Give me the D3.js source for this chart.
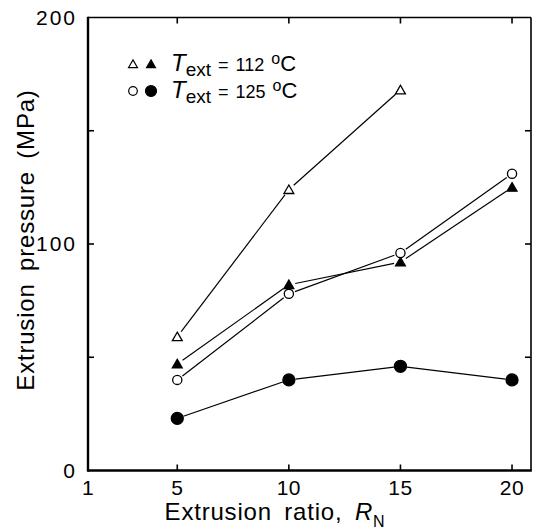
<!DOCTYPE html>
<html>
<head>
<meta charset="utf-8">
<script src="https://cdn.jsdelivr.net/npm/d3@7"></script>
<style>
  body { margin: 0; background: #fff; }
  text { font-family: "Liberation Sans", Arial, Helvetica, sans-serif; fill: #000; }
</style>
</head>
<body>
<svg id="chart" width="534" height="531"></svg>
<script>
// extrusion ratio R_N
const ratios = [5, 10, 15, 20];
// extrusion pressure (MPa)
const open112 = [59, 124, 168];        // T_ext = 112 C, open triangles (no point at 20)
const filled112 = [47, 82, 92, 125];   // T_ext = 112 C, filled triangles
const open125 = [40, 78, 96, 131];     // T_ext = 125 C, open circles
const filled125 = [23, 40, 46, 40];    // T_ext = 125 C, filled circles

const xLabels = [1, 5, 10, 15, 20];
const xMinor = [5, 10, 15, 20];
const yLabels = [0, 100, 200];
const yMinor = [50, 100, 150];

const svg = d3.select('#chart');

const x = d3.scaleLinear().domain([1, 20.85]).range([88, 531]);
const y = d3.scaleLinear().domain([0, 200]).range([470.5, 17.5]);

// frame: left and bottom drawn heavier, like the scan
svg.append('line').attr('x1', x(1)).attr('x2', x(20.85)).attr('y1', y(200)).attr('y2', y(200))
  .attr('stroke', '#000').attr('stroke-width', 1.7);
svg.append('line').attr('x1', x(20.85)).attr('x2', x(20.85)).attr('y1', y(200)).attr('y2', y(0))
  .attr('stroke', '#000').attr('stroke-width', 1.6);
svg.append('line').attr('x1', x(1)).attr('x2', x(1)).attr('y1', y(200) - 0.8).attr('y2', y(0) + 1.2)
  .attr('stroke', '#000').attr('stroke-width', 2.4);
svg.append('line').attr('x1', x(1)).attr('x2', x(20.85) + 0.8).attr('y1', y(0)).attr('y2', y(0))
  .attr('stroke', '#000').attr('stroke-width', 2.4);

// ticks pointing inward on all four sides
const tk = 6;
xMinor.forEach(function (v) {
  svg.append('line').attr('x1', x(v)).attr('x2', x(v)).attr('y1', y(0)).attr('y2', y(0) - tk)
    .attr('stroke', '#000').attr('stroke-width', 1.6);
  svg.append('line').attr('x1', x(v)).attr('x2', x(v)).attr('y1', y(200)).attr('y2', y(200) + tk)
    .attr('stroke', '#000').attr('stroke-width', 1.6);
});
yMinor.forEach(function (v) {
  svg.append('line').attr('x1', x(1)).attr('x2', x(1) + tk).attr('y1', y(v)).attr('y2', y(v))
    .attr('stroke', '#000').attr('stroke-width', 1.6);
  svg.append('line').attr('x1', x(20.85)).attr('x2', x(20.85) - tk).attr('y1', y(v)).attr('y2', y(v))
    .attr('stroke', '#000').attr('stroke-width', 1.6);
});

// tick labels
svg.selectAll('.xl').data(xLabels).enter().append('text')
  .attr('x', function (d) { return x(d); }).attr('y', 495)
  .attr('text-anchor', 'middle').style('font-size', '21px').style('letter-spacing', '0.5px')
  .text(function (d) { return d; });
svg.selectAll('.yl').data(yLabels).enter().append('text')
  .attr('x', 77).attr('y', function (d) { return y(d) + 7; })
  .attr('text-anchor', 'end').style('font-size', '21px').style('letter-spacing', '2px')
  .text(function (d) { return d; });

// axis titles
const xt = svg.append('text').attr('x', 275).attr('y', 520).attr('text-anchor', 'middle')
  .style('font-size', '24px').style('word-spacing', '5px').style('letter-spacing', '0.8px');
xt.append('tspan').text('Extrusion ratio, ');
xt.append('tspan').style('font-style', 'italic').text('R');
xt.append('tspan').attr('dy', 7).style('font-size', '16px').text('N');

svg.append('text').attr('transform', 'translate(34,240) rotate(-90)')
  .attr('text-anchor', 'middle').style('font-size', '24px').style('word-spacing', '5px')
  .style('letter-spacing', '0.8px')
  .text('Extrusion pressure  (MPa)');

// connecting lines, stopped short of the markers
function segments(vals) {
  const g = 6.5;
  for (let i = 0; i < vals.length - 1; i++) {
    const x1 = x(ratios[i]), y1 = y(vals[i]), x2 = x(ratios[i + 1]), y2 = y(vals[i + 1]);
    const len = Math.hypot(x2 - x1, y2 - y1), ux = (x2 - x1) / len, uy = (y2 - y1) / len;
    svg.append('line')
      .attr('x1', x1 + ux * g).attr('y1', y1 + uy * g)
      .attr('x2', x2 - ux * g).attr('y2', y2 - uy * g)
      .attr('stroke', '#000').attr('stroke-width', 1.2);
  }
}
[open112, filled112, open125, filled125].forEach(segments);

const tri = d3.symbol().type(d3.symbolTriangle).size(42);

function markers(vals, kind) {
  const sel = svg.selectAll(null).data(vals).enter();
  if (kind === 'openTri' || kind === 'fillTri') {
    sel.append('path').attr('d', tri)
      .attr('transform', function (d, i) { return 'translate(' + x(ratios[i]) + ',' + (y(d) + 1) + ')'; })
      .attr('fill', kind === 'fillTri' ? '#000' : '#fff')
      .attr('stroke', '#000').attr('stroke-width', 1.3);
  } else {
    sel.append('circle')
      .attr('cx', function (d, i) { return x(ratios[i]); })
      .attr('cy', function (d) { return y(d); })
      .attr('r', kind === 'fillCirc' ? 6 : 4.6)
      .attr('fill', kind === 'fillCirc' ? '#000' : '#fff')
      .attr('stroke', '#000').attr('stroke-width', 1.3);
  }
}
markers(open112, 'openTri');
markers(filled112, 'fillTri');
markers(open125, 'openCirc');
markers(filled125, 'fillCirc');

// legend
const legendRows = [
  { y: 64, kinds: ['openTri', 'fillTri'], temp: '112' },
  { y: 91, kinds: ['openCirc', 'fillCirc'], temp: '125' }
];
legendRows.forEach(function (r) {
  r.kinds.forEach(function (k, j) {
    const cx = 133 + j * 18;
    if (k === 'openTri' || k === 'fillTri') {
      svg.append('path').attr('d', d3.symbol().type(d3.symbolTriangle).size(34))
        .attr('transform', 'translate(' + cx + ',' + (r.y + 1) + ')')
        .attr('fill', k === 'fillTri' ? '#000' : '#fff').attr('stroke', '#000').attr('stroke-width', 1.2);
    } else {
      svg.append('circle').attr('cx', cx).attr('cy', r.y).attr('r', k === 'fillCirc' ? 5.5 : 4.3)
        .attr('fill', k === 'fillCirc' ? '#000' : '#fff').attr('stroke', '#000').attr('stroke-width', 1.2);
    }
  });
  const t = svg.append('text').attr('x', 171).attr('y', r.y + 7).style('font-size', '20px');
  t.append('tspan').style('font-style', 'italic').style('font-size', '24px').text('T');
  t.append('tspan').attr('dy', 5).style('font-size', '19px').text('ext');
  t.append('tspan').attr('dy', -5).style('font-size', '18px').style('word-spacing', '2px')
    .text(' = ' + r.temp + '   ');
  t.append('tspan').attr('dy', -7).style('font-size', '16px').text('o');
  t.append('tspan').attr('dy', 7).style('font-size', '22px').text('C');
});
</script>
</body>
</html>
